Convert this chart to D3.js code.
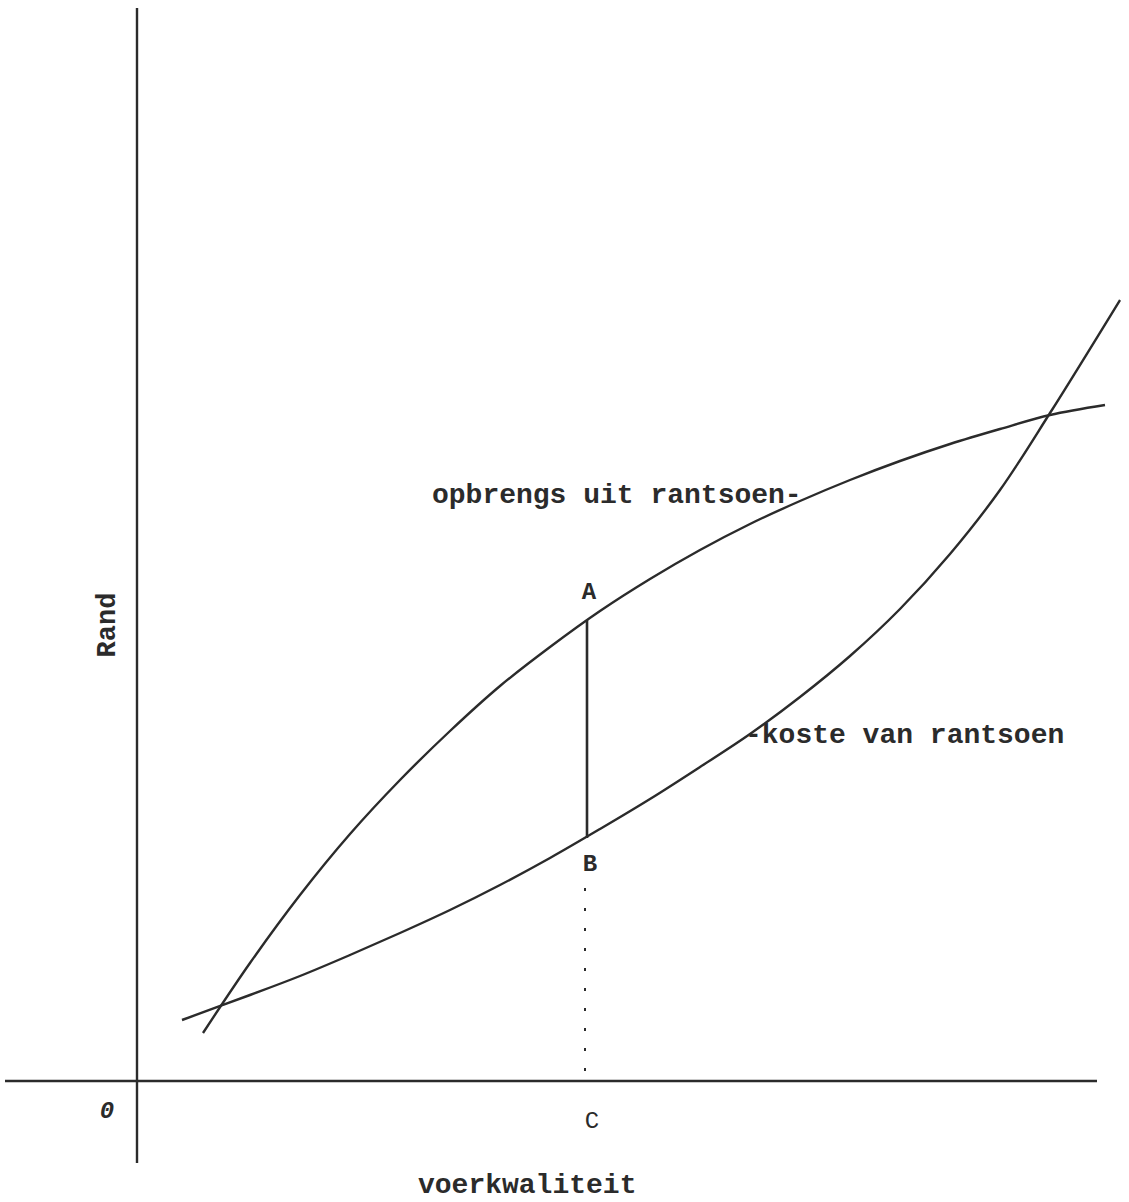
<!DOCTYPE html>
<html>
<head>
<meta charset="utf-8">
<script src="https://cdn.jsdelivr.net/npm/d3@7"></script>
<style>
  html, body { margin: 0; padding: 0; background: #fff; }
  #vis { width: 1129px; height: 1202px; }
  text { font-family: "Liberation Mono", "DejaVu Sans Mono", monospace; fill: #2b2b2b; }
</style>
</head>
<body>
<div id="vis"></div>
<script>
// voerkwaliteit (x) against rand (y)
var revenueX = [0.66, 1.13, 1.63, 2.13, 2.63, 3.13, 3.63, 4.13, 4.63, 5.13, 5.63, 6.13, 6.63, 7.13, 7.63, 8.13, 8.63, 9.13, 9.68];
var revenueY = [0.48, 1.18, 1.86, 2.47, 3.01, 3.50, 3.95, 4.34, 4.70, 5.02, 5.31, 5.57, 5.80, 6.01, 6.20, 6.37, 6.52, 6.66, 6.76];

var costX = [0.45, 1.13, 1.63, 2.13, 2.63, 3.13, 3.63, 4.13, 4.63, 5.13, 5.63, 6.13, 6.63, 7.13, 7.63, 8.13, 8.63, 9.13, 9.83];
var costY = [0.61, 0.86, 1.05, 1.26, 1.48, 1.71, 1.96, 2.23, 2.52, 2.82, 3.14, 3.47, 3.84, 4.25, 4.72, 5.27, 5.91, 6.68, 7.81];

// point C on the quality axis, A on revenue, B on cost
var cQuality = 4.5;
var aValue = 4.61;
var bValue = 2.43;

var axisXExtent = [-1.32, 9.6];
var axisYExtent = [-0.82, 10.73];

var width = 1129;
var height = 1202;

var svg = d3.select('#vis')
    .append('svg')
    .attr('width', width)
    .attr('height', height);

var x_scale = d3.scaleLinear()
    .domain([0, 10])
    .range([137, 1137]);

var y_scale = d3.scaleLinear()
    .domain([0, 10])
    .range([1081, 81]);

var ink = '#2b2b2b';

// axes, plain lines through the origin
svg.append('line')
    .attr('x1', x_scale(axisXExtent[0]))
    .attr('x2', x_scale(axisXExtent[1]))
    .attr('y1', y_scale(0))
    .attr('y2', y_scale(0))
    .attr('stroke', ink)
    .attr('stroke-width', 2.4);

svg.append('line')
    .attr('x1', x_scale(0))
    .attr('x2', x_scale(0))
    .attr('y1', y_scale(axisYExtent[0]))
    .attr('y2', y_scale(axisYExtent[1]))
    .attr('stroke', ink)
    .attr('stroke-width', 2.4);

var line = d3.line()
    .x(function(d) { return x_scale(d[0]); })
    .y(function(d) { return y_scale(d[1]); })
    .curve(d3.curveCatmullRom.alpha(0.5));

svg.append('path')
    .datum(d3.zip(revenueX, revenueY))
    .attr('d', line)
    .attr('fill', 'none')
    .attr('stroke', ink)
    .attr('stroke-width', 2.4);

svg.append('path')
    .datum(d3.zip(costX, costY))
    .attr('d', line)
    .attr('fill', 'none')
    .attr('stroke', ink)
    .attr('stroke-width', 2.4);

// A-B margin
svg.append('line')
    .attr('x1', x_scale(cQuality))
    .attr('x2', x_scale(cQuality))
    .attr('y1', y_scale(aValue))
    .attr('y2', y_scale(bValue))
    .attr('stroke', ink)
    .attr('stroke-width', 2.6);

// dotted drop to C
svg.append('line')
    .attr('x1', x_scale(cQuality) - 2)
    .attr('x2', x_scale(cQuality) - 2)
    .attr('y1', y_scale(bValue) + 50)
    .attr('y2', y_scale(0))
    .attr('stroke', ink)
    .attr('stroke-width', 2)
    .attr('stroke-dasharray', '3,17');

function label(txt, x, y, size, weight, anchor) {
    return svg.append('text')
        .attr('x', x)
        .attr('y', y)
        .attr('font-size', size)
        .attr('font-weight', weight)
        .attr('text-anchor', anchor || 'start')
        .text(txt);
}

label('A', x_scale(cQuality) + 2, y_scale(aValue) - 21, 24, 'bold', 'middle');
label('B', x_scale(cQuality) + 3, y_scale(bValue) + 33, 24, 'bold', 'middle');
label('C', x_scale(cQuality) + 5, y_scale(0) + 47, 24, 'normal', 'middle');
label('0', x_scale(0) - 30, y_scale(0) + 37, 24, 'bold', 'middle')
    .attr('font-style', 'italic');

label('opbrengs uit rantsoen-', 432, 503, 28, 'bold');
label('-koste van rantsoen', 745, 743, 28, 'bold');
label('voerkwaliteit', 418, 1193, 28, 'bold');

label('Rand', 0, 0, 27, 'bold', 'middle')
    .attr('transform', 'translate(115,625) rotate(-90)');
</script>
</body>
</html>
